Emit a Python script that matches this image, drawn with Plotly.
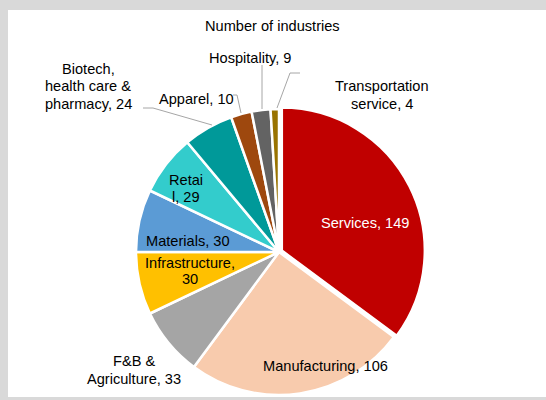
import plotly.graph_objects as go

# ---- data ----
categories = ["Services", "Manufacturing", "F&B & Agriculture", "Infrastructure",
              "Materials", "Retail", "Biotech, health care & pharmacy",
              "Apparel", "Hospitality", "Transportation service"]
values = [149, 106, 33, 30, 30, 29, 24, 10, 9, 4]
label_lines = [["Services, 149"], ["Manufacturing, 106"], ["F&B &", "Agriculture, 33"],
               ["Infrastructure,", "30"], ["Materials, 30"], ["Retai", "l, 29"],
               ["Biotech,", "health care &", "pharmacy, 24"], ["Apparel, 10"],
               ["Hospitality, 9"], ["Transportation", "service, 4"]]
title_text = "Number of industries"

# ---- style ----
colors = ["#C00000", "#F8CBAD", "#A5A5A5", "#FFC000", "#5B9BD5", "#33CCCC",
          "#009999", "#9E480E", "#636363", "#997300"]
pulls = [0.022, 0, 0, 0, 0, 0, 0, 0, 0, 0]
W, H = 546, 400
FONT = "Liberation Sans, Arial, sans-serif"
FS = 14.6

# label layout (pixel centres of each line)
label_pos = [(365, [223]), (325, [366]), (134, [361, 379]), (190, [263, 279]),
             (188, [241]), (186, [180, 197]), (88, [69, 86, 104]), (196, [99]),
             (250, [58]), (382, [86, 104])]
label_color = ["white"] + ["black"] * 9

leaders = [
    [(143, 108), (153, 108), (212, 125)],   # Biotech
    [(233, 95), (237, 95), (241, 113)],     # Apparel
    [(262, 65), (262, 109)],                # Hospitality
    [(300, 73), (290, 73), (277, 108)],     # Transportation
]


def px(x):
    return x / W


def py(y):
    return 1 - y / H


cx, cy, r = 279, 252, 143
R = r * (1 + max(pulls))

fig = go.Figure(go.Pie(
    labels=categories, values=values, sort=False, direction="clockwise",
    rotation=0, pull=pulls, textinfo="none", hoverinfo="label+value",
    marker=dict(colors=colors, line=dict(color="white", width=2.5)),
    domain=dict(x=[px(cx - R), px(cx + R)], y=[py(cy + R), py(cy - R)]),
    showlegend=False,
))

annotations = [dict(x=px(272), y=py(26), xref="paper", yref="paper",
                    text=title_text, showarrow=False, xanchor="center",
                    yanchor="middle", font=dict(family=FONT, size=FS, color="black"))]
for lines, (x, ys), col in zip(label_lines, label_pos, label_color):
    for t, y in zip(lines, ys):
        annotations.append(dict(x=px(x), y=py(y), xref="paper", yref="paper",
                                text=t, showarrow=False, xanchor="center",
                                yanchor="middle",
                                font=dict(family=FONT, size=FS, color=col)))

shapes = [dict(type="rect", xref="paper", yref="paper", x0=px(8), x1=px(546),
               y0=py(397), y1=py(10), fillcolor="white", line=dict(width=0),
               layer="below")]
for pts in leaders:
    path = "M " + " L ".join(f"{px(x)},{py(y)}" for x, y in pts)
    shapes.append(dict(type="path", xref="paper", yref="paper", path=path,
                       line=dict(color="#A6A6A6", width=1)))

fig.update_layout(width=W, height=H, margin=dict(l=0, r=0, t=0, b=0),
                  paper_bgcolor="#D9D9D9", annotations=annotations, shapes=shapes)
fig.write_html("out.html")
